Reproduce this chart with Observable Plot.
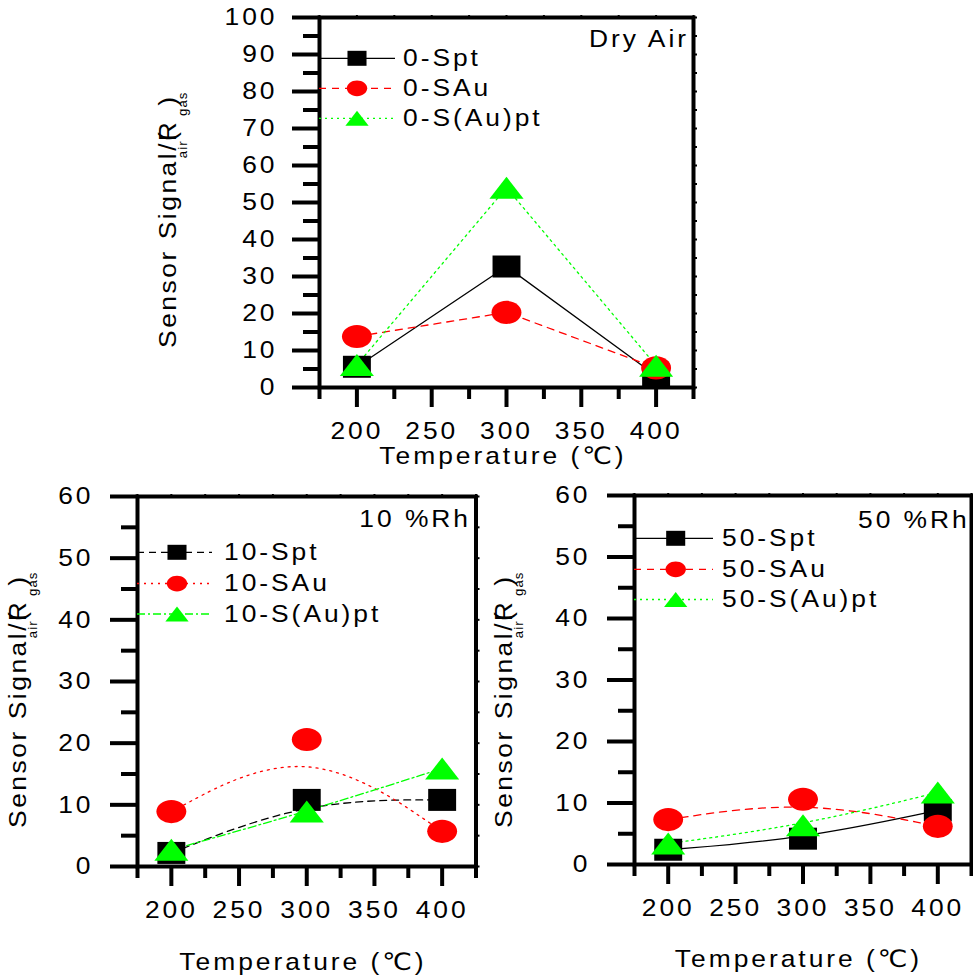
<!DOCTYPE html>
<html>
<head>
<meta charset="utf-8">
<script src="https://cdn.jsdelivr.net/npm/d3@7"></script>
<script src="https://cdn.jsdelivr.net/npm/@observablehq/plot@0.6"></script>
<style>
  html, body { margin: 0; padding: 0; background: #fff; }
  #wrap { position: relative; width: 973px; height: 976px; overflow: hidden; background: #fff; }
  .panel { position: absolute; }
  .panel svg { max-width: none; display: block; }
</style>
</head>
<body>
<div id="wrap"></div>
<script>
// ---------- data ----------
const temps = [200, 300, 400];

const dryNames = ["0-Spt", "0-SAu", "0-S(Au)pt"];
const dry_Spt = [5.6, 32.7, 3.2];
const dry_SAu = [13.8, 20.3, 5.3];
const dry_SAupt = [6.1, 54.0, 5.9];

const rh10Names = ["10-Spt", "10-SAu", "10-S(Au)pt"];
const rh10_Spt = [2.2, 10.8, 10.8];
const rh10_SAu = [8.9, 20.6, 5.7];
const rh10_SAupt = [2.7, 8.9, 15.9];

const rh50Names = ["50-Spt", "50-SAu", "50-S(Au)pt"];
const rh50_Spt = [2.4, 4.2, 8.8];
const rh50_SAu = [7.3, 10.6, 6.2];
const rh50_SAupt = [3.4, 6.4, 11.7];

const xMajorTicks = [200, 250, 300, 350, 400];
const xMinorTicks = [175, 225, 275, 325, 375, 425];
const xAllTicks = [175, 200, 225, 250, 275, 300, 325, 350, 375, 400, 425];
const yTicksTop = [0, 10, 20, 30, 40, 50, 60, 70, 80, 90, 100];
const yMinorTop = [5, 15, 25, 35, 45, 55, 65, 75, 85, 95];
const yTicksBottom = [0, 10, 20, 30, 40, 50, 60];
const yMinorBottom = [5, 15, 25, 35, 45, 55];

const xTitle = "Temperature (\u2103)";

// ---------- styling helpers ----------
const FONT = "'Liberation Sans', Arial, 'DejaVu Sans', 'Noto Sans CJK SC', sans-serif";
const SX = 1.1;   // slightly wide lettering of the original
const LS = 2.7;   // letter spacing
const BLACK = "#000000", RED = "#ff0000", GREEN = "#00ff00";

function rectSymbol(wr, hr) {
  return { draw(ctx, size) { const r = Math.sqrt(size / Math.PI); const w = r * wr, h = r * hr; ctx.rect(-w, -h, 2 * w, 2 * h); } };
}
function ellipseSymbol(wr, hr) {
  return { draw(ctx, size) {
    const r = Math.sqrt(size / Math.PI); const rx = r * wr, ry = r * hr, k = 0.5523;
    ctx.moveTo(rx, 0);
    ctx.bezierCurveTo(rx, k * ry, k * rx, ry, 0, ry);
    ctx.bezierCurveTo(-k * rx, ry, -rx, k * ry, -rx, 0);
    ctx.bezierCurveTo(-rx, -k * ry, -k * rx, -ry, 0, -ry);
    ctx.bezierCurveTo(k * rx, -ry, rx, -k * ry, rx, 0);
    ctx.closePath();
  } };
}
function triangleSymbol(wr, hr) {
  return { draw(ctx, size) {
    const r = Math.sqrt(size / Math.PI); const w = r * wr, h = r * hr;
    ctx.moveTo(0, -h); ctx.lineTo(w, h); ctx.lineTo(-w, h); ctx.closePath();
  } };
}
const SQUARE = rectSymbol(1.27, 1.0);
const ELLIPSE = ellipseSymbol(1.36, 1.05);
const TRIANGLE = triangleSymbol(1.55, 1.0);

function rows(values) { return temps.map((t, i) => ({ t, v: values[i] })); }

function panel(cfg) {
  const { left, top, width, height, ml, mr, mt, mb, ymax, yTicks, yMinor, series, curve,
          yPad, note, noteX, noteY, legRows, legLineEnd, legMarkX, legTextX,
          titleX, titleY, yTitleX, yTitleY } = cfg;
  const ySmall = [...yTicks, ...yMinor];
  const marks = [
    Plot.axisY(yTicks, { anchor: "left", tickSize: 27, strokeWidth: 4, tickPadding: yPad, fontSize: 24, label: null }),
    Plot.axisY(yMinor, { anchor: "left", tickSize: 16, strokeWidth: 4, fill: "none", label: null }),
    Plot.axisY(ySmall, { anchor: "right", tickSize: 3, strokeWidth: 2, fill: "none", label: null }),
    Plot.axisX(xMajorTicks, { anchor: "bottom", tickSize: 20, strokeWidth: 4, tickPadding: 14, fontSize: 24, label: null }),
    Plot.axisX(xMinorTicks, { anchor: "bottom", tickSize: 12, strokeWidth: 4, fill: "none", label: null }),
    Plot.axisX(xAllTicks, { anchor: "top", tickSize: 3, strokeWidth: 2, fill: "none", label: null }),
    Plot.frame({ stroke: BLACK, strokeWidth: 4 }),
    ...series.map(s => Plot.line(rows(s.values), { x: "t", y: "v", stroke: s.color, strokeWidth: 1.3, strokeDasharray: s.dash, curve })),
    ...series.map(s => Plot.dot(rows(s.values), { x: "t", y: "v", fill: s.color, stroke: "none", r: 11, symbol: s.symbol }))
  ];
  const svg = Plot.plot({
    width, height,
    marginLeft: ml, marginRight: mr, marginTop: mt, marginBottom: mb,
    x: { domain: [175, 425] },
    y: { domain: [0, ymax] },
    style: { fontFamily: FONT, fontSize: "24px", color: "black", background: "transparent", overflow: "visible" },
    marks
  });
  // widen lettering of library-drawn tick labels (scale about each anchor)
  d3.select(svg).selectAll("text").each(function () {
    const t = this.getAttribute("transform") || "";
    this.setAttribute("transform", (t + ` scale(${SX},1)`).trim());
    this.setAttribute("letter-spacing", LS);
  });

  const g = d3.select(svg).append("g").attr("font-family", FONT).attr("fill", "black");

  // condition label (top right)
  g.append("text").attr("text-anchor", "end").attr("font-size", 24).attr("letter-spacing", LS)
    .attr("transform", `translate(${noteX},${noteY}) scale(${SX},1)`).text(note);

  // legend
  series.forEach((s, i) => {
    const y = legRows[i];
    const ln = g.append("line").attr("x1", ml).attr("x2", legLineEnd).attr("y1", y).attr("y2", y)
      .attr("stroke", s.color).attr("stroke-width", 1.3);
    if (s.dash) ln.attr("stroke-dasharray", s.dash);
    g.append("path").attr("d", d3.symbol(s.symbol, Math.PI * 7.5 * 7.5)())
      .attr("transform", `translate(${legMarkX},${y})`).attr("fill", s.color);
    g.append("text").attr("text-anchor", "start").attr("font-size", 24).attr("letter-spacing", LS).attr("dy", "0.33em")
      .attr("transform", `translate(${legTextX},${y}) scale(${SX},1)`).text(s.name);
  });

  // x title
  g.append("text").attr("text-anchor", "middle").attr("font-size", 24).attr("letter-spacing", LS)
    .attr("transform", `translate(${titleX},${titleY}) scale(${SX},1)`).text(xTitle);

  // y title
  const yt = g.append("text").attr("text-anchor", "start").attr("font-size", 24).attr("letter-spacing", 2.3)
    .attr("transform", `translate(${yTitleX},${yTitleY}) rotate(-90) scale(${SX},1)`);
  yt.append("tspan").text("Sensor Signal/(");
  yt.append("tspan").attr("dx", -10.6).text("R");
  yt.append("tspan").attr("font-size", 12).attr("letter-spacing", 1).attr("dx", -35).attr("dy", 11).text("air");
  yt.append("tspan").attr("font-size", 12).attr("letter-spacing", 1).attr("dx", 22).text("gas");
  yt.append("tspan").attr("dx", -13).attr("dy", -11).text(")");

  const div = document.createElement("div");
  div.className = "panel";
  div.style.left = left + "px";
  div.style.top = top + "px";
  div.appendChild(svg);
  document.getElementById("wrap").appendChild(div);
}

// ---------- Dry air ----------
panel({
  left: 0, top: 0, width: 720, height: 470, ml: 319, mr: 27, mt: 17, mb: 83,
  ymax: 100, yTicks: yTicksTop, yMinor: yMinorTop, curve: "linear", yPad: 15,
  series: [
    { name: dryNames[0], values: dry_Spt, color: BLACK, dash: undefined, symbol: SQUARE },
    { name: dryNames[1], values: dry_SAu, color: RED, dash: "7,6", symbol: ELLIPSE },
    { name: dryNames[2], values: dry_SAupt, color: GREEN, dash: "2,4", symbol: TRIANGLE }
  ],
  note: "Dry Air", noteX: 689, noteY: 47,
  legRows: [58.3, 88.3, 118.3], legLineEnd: 395, legMarkX: 357, legTextX: 403,
  titleX: 503, titleY: 464, yTitleX: 176, yTitleY: 348
});

// ---------- 10 %Rh ----------
panel({
  left: 0, top: 470, width: 490, height: 506, ml: 137, mr: 14.5, mt: 26, mb: 110,
  ymax: 60, yTicks: yTicksBottom, yMinor: yMinorBottom, curve: "basis", yPad: 17,
  series: [
    { name: rh10Names[0], values: rh10_Spt, color: BLACK, dash: "7,5", symbol: SQUARE },
    { name: rh10Names[1], values: rh10_SAu, color: RED, dash: "2,5", symbol: ELLIPSE },
    { name: rh10Names[2], values: rh10_SAupt, color: GREEN, dash: "8,3,2,3", symbol: TRIANGLE }
  ],
  note: "10 %Rh", noteX: 471, noteY: 56.7,
  legRows: [82.3, 113.5, 144], legLineEnd: 212, legMarkX: 177, legTextX: 224,
  titleX: 303, titleY: 500, yTitleX: 26, yTitleY: 358
});

// ---------- 50 %Rh ----------
panel({
  left: 480, top: 470, width: 493, height: 506, ml: 154, mr: 2, mt: 25, mb: 112,
  ymax: 60, yTicks: yTicksBottom, yMinor: yMinorBottom, curve: "basis", yPad: 17,
  series: [
    { name: rh50Names[0], values: rh50_Spt, color: BLACK, dash: undefined, symbol: SQUARE },
    { name: rh50Names[1], values: rh50_SAu, color: RED, dash: "7,6", symbol: ELLIPSE },
    { name: rh50Names[2], values: rh50_SAupt, color: GREEN, dash: "2,4", symbol: TRIANGLE }
  ],
  note: "50 %Rh", noteX: 489.7, noteY: 57.7,
  legRows: [68.3, 99.3, 129.5], legLineEnd: 233, legMarkX: 195.7, legTextX: 242,
  titleX: 318.5, titleY: 496.7, yTitleX: 32, yTitleY: 358
});
</script>
</body>
</html>
